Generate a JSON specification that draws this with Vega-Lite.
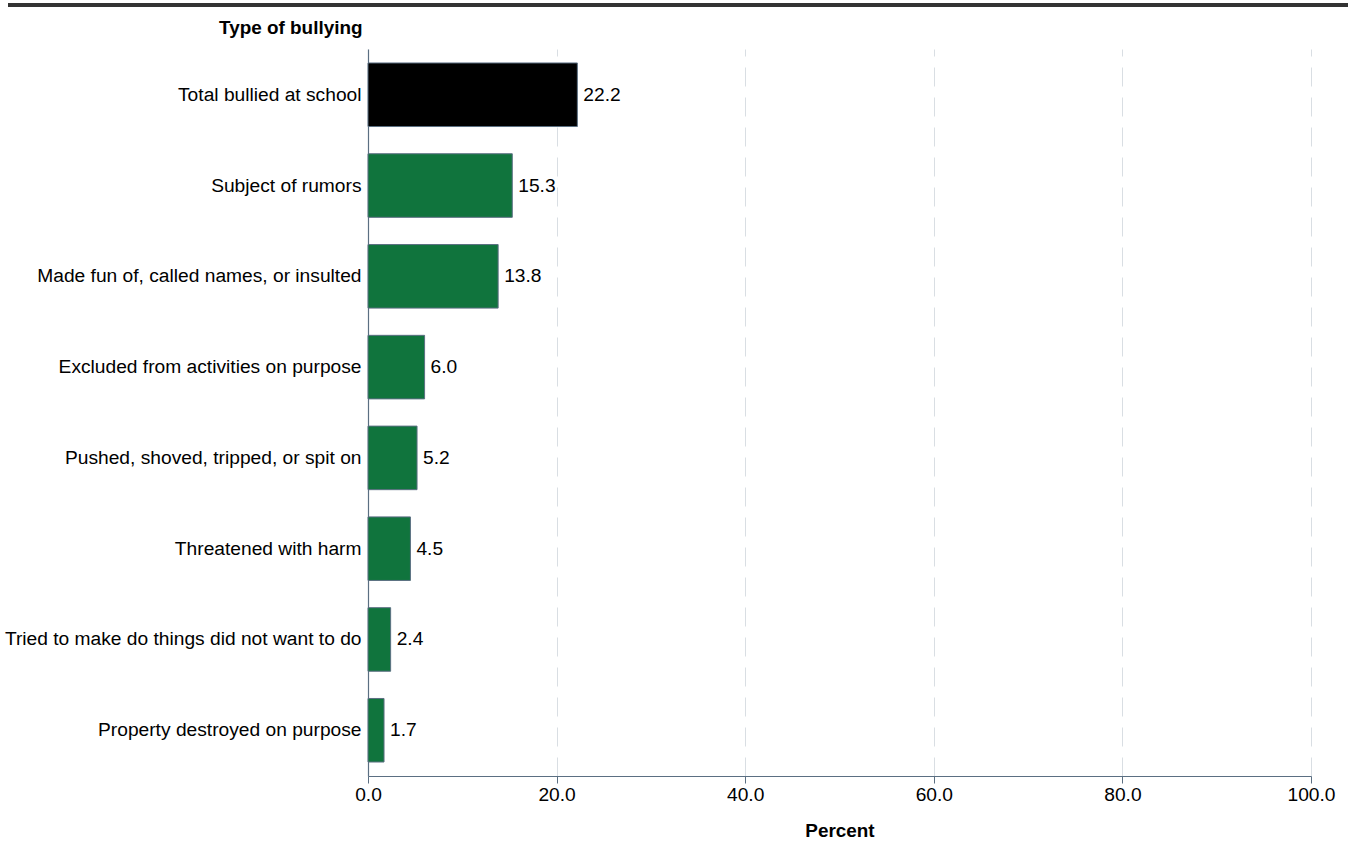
{
  "$schema": "https://vega.github.io/schema/vega-lite/v6.json",
  "autosize": {"type": "none"},
  "width": 943,
  "height": 727,
  "padding": {"left": 368, "top": 49, "right": 37, "bottom": 69},
  "background": "white",
  "config": {
    "font": "Liberation Sans",
    "view": {"stroke": null}
  },
  "data": {
    "values": [
      {"type": "Total bullied at school", "percent": 22.2, "group": "total"},
      {"type": "Subject of rumors", "percent": 15.3, "group": "item"},
      {"type": "Made fun of, called names, or insulted", "percent": 13.8, "group": "item"},
      {"type": "Excluded from activities on purpose", "percent": 6.0, "group": "item"},
      {"type": "Pushed, shoved, tripped, or spit on", "percent": 5.2, "group": "item"},
      {"type": "Threatened with harm", "percent": 4.5, "group": "item"},
      {"type": "Tried to make do things did not want to do", "percent": 2.4, "group": "item"},
      {"type": "Property destroyed on purpose", "percent": 1.7, "group": "item"}
    ]
  },
  "encoding": {
    "y": {
      "field": "type",
      "type": "nominal",
      "sort": null,
      "scale": {"paddingInner": 0.3, "paddingOuter": 0.154},
      "axis": {
        "title": "Type of bullying",
        "titleFontSize": 18.9,
        "titleFontWeight": "bold",
        "titleColor": "#000",
        "titleAngle": 0,
        "titleAlign": "right",
        "titleBaseline": "bottom",
        "titleX": -6,
        "titleY": -12,
        "labelFontSize": 19.2,
        "labelColor": "#000",
        "labelLimit": 420,
        "labelPadding": 7,
        "ticks": false,
        "domainColor": "#5b6f82",
        "domainWidth": 1.2,
        "grid": false
      }
    }
  },
  "layer": [
    {
      "mark": {"type": "rule", "stroke": "#333333", "strokeWidth": 4},
      "encoding": {
        "x": {"value": -360},
        "x2": {"value": 980},
        "y": {"value": -44}
      }
    },
    {
      "mark": {"type": "bar", "stroke": "#5b6f82", "strokeWidth": 1},
      "encoding": {
        "x": {
          "field": "percent",
          "type": "quantitative",
          "scale": {"domain": [0, 100], "nice": false},
          "axis": {
            "title": "Percent",
            "titleFontSize": 18.9,
            "titleFontWeight": "bold",
            "titleColor": "#000",
            "titlePadding": 17,
            "values": [0, 20, 40, 60, 80, 100],
            "format": ".1f",
            "labelFontSize": 19.2,
            "labelColor": "#000",
            "labelPadding": 2,
            "labelFlush": false,
            "tickSize": 7,
            "tickColor": "#5b6f82",
            "domainColor": "#5b6f82",
            "domainWidth": 1.2,
            "grid": true,
            "gridColor": "#d9dee3",
            "gridDash": [19, 11],
            "gridWidth": 1
          }
        },
        "color": {
          "field": "group",
          "type": "nominal",
          "scale": {"domain": ["total", "item"], "range": ["#000000", "#10743d"]},
          "legend": null
        }
      }
    },
    {
      "mark": {"type": "text", "align": "left", "baseline": "middle", "dx": 6, "fontSize": 19.2, "color": "#000"},
      "encoding": {
        "x": {"field": "percent", "type": "quantitative"},
        "text": {"field": "percent", "type": "quantitative", "format": ".1f"}
      }
    }
  ]
}
